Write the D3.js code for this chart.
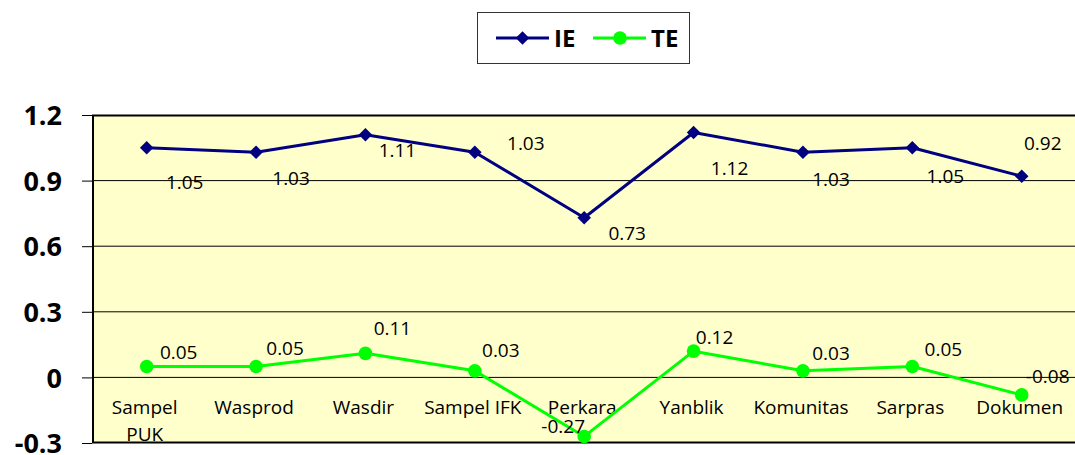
<!DOCTYPE html>
<html>
<head>
<meta charset="utf-8">
<script src="https://cdn.jsdelivr.net/npm/d3@7"></script>
<style>
  html, body { margin: 0; padding: 0; background: #ffffff; }
  svg { display: block; }
</style>
</head>
<body>
<svg id="chart" width="1075" height="455"></svg>
<script>
// ---- data ----
const categories = ["Sampel PUK", "Wasprod", "Wasdir", "Sampel IFK", "Perkara", "Yanblik", "Komunitas", "Sarpras", "Dokumen"];
const categoryLabels = [["Sampel", "PUK"], ["Wasprod"], ["Wasdir"], ["Sampel IFK"], ["Perkara"], ["Yanblik"], ["Komunitas"], ["Sarpras"], ["Dokumen"]];
const ieValues = [1.05, 1.03, 1.11, 1.03, 0.73, 1.12, 1.03, 1.05, 0.92];
const teValues = [0.05, 0.05, 0.11, 0.03, -0.27, 0.12, 0.03, 0.05, -0.08];
const yTicks = [-0.3, 0, 0.3, 0.6, 0.9, 1.2];
const yTickLabels = ["-0.3", "0", "0.3", "0.6", "0.9", "1.2"];
const seriesNames = ["IE", "TE"];

// manual label placement (as in the original, px offsets from the point: [dx to label centre, dy to baseline])
const ieLabelOffsets = [[38, 41], [35, 33], [32, 22], [51, -2], [43, 22], [36, 43], [28, 34], [33, 35], [21, -26]];
const teLabelOffsets = [[32, -7], [29, -11], [27, -18], [26, -14], [-21, -3], [21, -7], [28, -11], [31, -10], [26, -12]];

// ---- layout ----
const svg = d3.select("#chart");
const plot = { left: 92, right: 1076.4, top: 115, bottom: 443 };
const FONT = "'Open Sans', 'DejaVu Sans', sans-serif";

const x = d3.scaleBand().domain(categories).range([plot.left, plot.right]).padding(0);
const cx = d => x(d) + x.bandwidth() / 2;
const y = d3.scaleLinear().domain([-0.3, 1.2]).range([plot.bottom, plot.top]);

// plot background
svg.append("rect")
  .attr("x", plot.left).attr("y", plot.top)
  .attr("width", plot.right - plot.left).attr("height", plot.bottom - plot.top)
  .attr("fill", "#FFFFCC");

// gridlines
svg.append("g").selectAll("line")
  .data(yTicks.filter(t => t > -0.3 && t < 1.2))
  .join("line")
  .attr("x1", plot.left).attr("x2", plot.right)
  .attr("y1", d => y(d)).attr("y2", d => y(d))
  .attr("stroke", "#000").attr("stroke-width", 1);

// y axis (ticks outside, bold labels)
const yAxis = d3.axisLeft(y).tickValues(yTicks)
  .tickFormat((d, i) => yTickLabels[i]).tickSize(10).tickPadding(20);
const yg = svg.append("g").attr("transform", `translate(${plot.left},0)`).call(yAxis);
yg.select(".domain").remove();
yg.selectAll(".tick line").attr("stroke", "#000").attr("stroke-width", 1);
yg.selectAll(".tick text")
  .attr("font-family", FONT).attr("font-weight", "bold").attr("font-size", 27)
  .attr("fill", "#000").attr("dy", "0.36em");

// plot border
svg.append("rect")
  .attr("x", plot.left + 1).attr("y", plot.top + 0.5)
  .attr("width", plot.right - plot.left).attr("height", plot.bottom - plot.top - 1)
  .attr("fill", "none").attr("stroke", "#000").attr("stroke-width", 2);

// category labels (axis crosses at 0)
const xg = svg.append("g");
categories.forEach((c, i) => {
  const t = xg.append("text")
    .attr("x", cx(c) - 2).attr("y", y(0) + 37)
    .attr("text-anchor", "middle")
    .attr("font-family", FONT).attr("font-size", 19).attr("fill", "#000");
  categoryLabels[i].forEach((line, j) => {
    t.append("tspan").attr("x", cx(c) - 2).attr("dy", j === 0 ? 0 : 27).text(line);
  });
});

// lines
const lineGen = vals => d3.line().x((d, i) => cx(categories[i])).y(d => y(d))(vals);
svg.append("path").attr("d", lineGen(ieValues))
  .attr("fill", "none").attr("stroke", "#000080").attr("stroke-width", 3).attr("stroke-linejoin", "round");
svg.append("path").attr("d", lineGen(teValues))
  .attr("fill", "none").attr("stroke", "#00FF00").attr("stroke-width", 3).attr("stroke-linejoin", "round");

// markers
const diamond = d3.symbol().type(d3.symbolSquare).size(92);
svg.append("g").selectAll("path")
  .data(ieValues).join("path")
  .attr("d", diamond)
  .attr("transform", (d, i) => `translate(${cx(categories[i])},${y(d)}) rotate(45)`)
  .attr("fill", "#000080");
svg.append("g").selectAll("circle")
  .data(teValues).join("circle")
  .attr("cx", (d, i) => cx(categories[i])).attr("cy", d => y(d)).attr("r", 6.8)
  .attr("fill", "#00FF00");

// data labels
const fmt = d => (d < 0 ? "-" : "") + Math.abs(d).toFixed(2);
svg.append("g").selectAll("text")
  .data(ieValues).join("text")
  .attr("x", (d, i) => cx(categories[i]) + ieLabelOffsets[i][0])
  .attr("y", (d, i) => y(d) + ieLabelOffsets[i][1])
  .attr("text-anchor", "middle")
  .attr("font-family", FONT).attr("font-size", 19).attr("fill", "#000")
  .text(fmt);
svg.append("g").selectAll("text")
  .data(teValues).join("text")
  .attr("x", (d, i) => cx(categories[i]) + teLabelOffsets[i][0])
  .attr("y", (d, i) => y(d) + teLabelOffsets[i][1])
  .attr("text-anchor", "middle")
  .attr("font-family", FONT).attr("font-size", 19).attr("fill", "#000")
  .text(fmt);

// legend
const lg = svg.append("g");
lg.append("rect").attr("x", 477.5).attr("y", 12.5).attr("width", 212).attr("height", 51)
  .attr("fill", "#fff").attr("stroke", "#333").attr("stroke-width", 1);
const legendItems = [
  { name: seriesNames[0], color: "#000080", x0: 496, type: "diamond" },
  { name: seriesNames[1], color: "#00FF00", x0: 593, type: "circle" }
];
legendItems.forEach(it => {
  const ly = 38;
  lg.append("line").attr("x1", it.x0).attr("x2", it.x0 + 53).attr("y1", ly).attr("y2", ly)
    .attr("stroke", it.color).attr("stroke-width", 3);
  if (it.type === "diamond") {
    lg.append("path").attr("d", diamond)
      .attr("transform", `translate(${it.x0 + 26.5},${ly}) rotate(45)`).attr("fill", it.color);
  } else {
    lg.append("circle").attr("cx", it.x0 + 27).attr("cy", ly).attr("r", 6.8).attr("fill", it.color);
  }
  lg.append("text").attr("x", it.x0 + 58).attr("y", 47)
    .attr("font-family", FONT).attr("font-weight", "bold").attr("font-size", 24)
    .attr("fill", "#000").text(it.name);
});
</script>
</body>
</html>
